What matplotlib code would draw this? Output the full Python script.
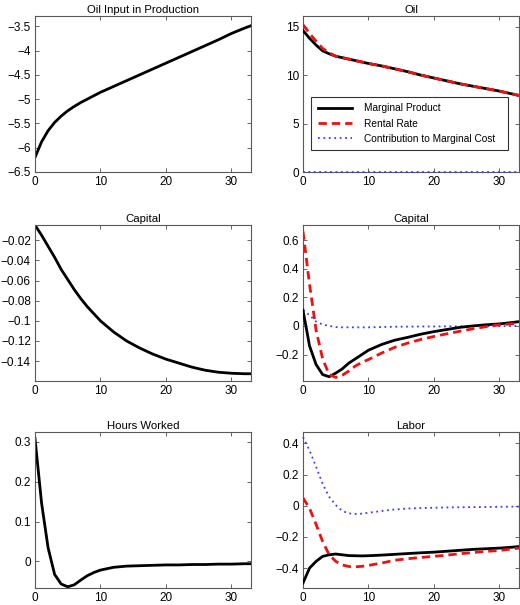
import numpy as np
import matplotlib
matplotlib.use("Agg")
import matplotlib.pyplot as plt
from matplotlib.ticker import FuncFormatter

plt.rcParams['font.family'] = ['Liberation Sans', 'DejaVu Sans']

# quarters after the shock
periods = [0, 1, 2, 3, 4, 5, 6, 7, 8, 9, 10, 12, 14, 16, 18, 20, 22, 24, 26, 28, 30, 32, 33]

oil_input = [-6.2, -5.88, -5.65, -5.48, -5.35, -5.24, -5.15, -5.07, -5.0, -4.93, -4.86, -4.74,
             -4.62, -4.50, -4.38, -4.26, -4.14, -4.02, -3.90, -3.78, -3.65, -3.54, -3.49]

oil_mp = [14.6, 13.8, 13.1, 12.5, 12.2, 11.95, 11.8, 11.65, 11.5, 11.35, 11.2, 10.95,
          10.65, 10.35, 10.0, 9.7, 9.4, 9.1, 8.85, 8.6, 8.35, 8.05, 7.9]
oil_rent = [15.2, 14.3, 13.5, 12.75, 12.3, 11.95, 11.8, 11.65, 11.5, 11.35, 11.2, 10.95,
            10.65, 10.35, 10.0, 9.7, 9.4, 9.1, 8.85, 8.6, 8.35, 8.05, 7.9]
oil_mc = [0.0] * 23

capital = [-0.005, -0.015, -0.026, -0.037, -0.049, -0.059, -0.069, -0.078, -0.086, -0.093, -0.1,
           -0.111, -0.12, -0.127, -0.133, -0.138, -0.142, -0.146, -0.149, -0.151, -0.152, -0.1525, -0.1525]

cap_mp = [0.11, -0.14, -0.27, -0.34, -0.355, -0.33, -0.30, -0.26, -0.23, -0.20, -0.17, -0.13,
          -0.10, -0.08, -0.058, -0.04, -0.025, -0.01, 0.0, 0.008, 0.014, 0.024, 0.03]
cap_rent = [0.66, 0.29, -0.03, -0.23, -0.34, -0.36, -0.345, -0.315, -0.28, -0.255, -0.235, -0.19,
            -0.15, -0.12, -0.095, -0.074, -0.055, -0.037, -0.02, -0.005, 0.007, 0.015, 0.018]
cap_mc = [0.11, 0.075, 0.03, 0.01, 0.0, -0.008, -0.01, -0.01, -0.01, -0.01, -0.01, -0.008,
          -0.006, -0.005, -0.004, -0.004, -0.003, -0.003, -0.002, -0.002, -0.002, -0.001, -0.001]

hours = [0.309, 0.147, 0.034, -0.033, -0.057, -0.064, -0.059, -0.047, -0.036, -0.028, -0.022, -0.015,
         -0.012, -0.011, -0.01, -0.009, -0.009, -0.008, -0.008, -0.007, -0.007, -0.006, -0.006]

lab_mp = [-0.496, -0.40, -0.357, -0.325, -0.315, -0.31, -0.315, -0.32, -0.321, -0.322, -0.321, -0.317,
          -0.312, -0.307, -0.302, -0.298, -0.292, -0.286, -0.28, -0.276, -0.272, -0.266, -0.262]
lab_rent = [0.05, -0.017, -0.12, -0.23, -0.315, -0.357, -0.38, -0.39, -0.392, -0.389, -0.383, -0.368,
            -0.35, -0.34, -0.332, -0.325, -0.317, -0.308, -0.3, -0.293, -0.287, -0.277, -0.272]
lab_mc = [0.44, 0.355, 0.25, 0.14, 0.057, 0.004, -0.034, -0.049, -0.053, -0.051, -0.045, -0.034,
          -0.024, -0.018, -0.015, -0.013, -0.011, -0.01, -0.009, -0.008, -0.007, -0.006, -0.006]

legend_labels = ["Marginal Product", "Rental Rate", "Contribution to Marginal Cost"]

fig = plt.figure(figsize=(5.2, 6.05), dpi=100)

cols = [35 / 520, 303 / 520]
w = 216 / 520
rows = [1 - 172 / 605, 1 - 381 / 605, 1 - 588 / 605]
h = 156 / 605

fmt = FuncFormatter(lambda v, p: ("%g" % v).replace("-", "\u2212"))


def make_ax(c, r, title, ylim, yticks):
    ax = fig.add_axes([cols[c], rows[r], w, h])
    ax.set_xlim(0, 33)
    ax.set_ylim(*ylim)
    ax.set_xticks([0, 10, 20, 30])
    ax.set_yticks(yticks)
    ax.yaxis.set_major_formatter(fmt)
    ax.tick_params(direction='in', length=3, width=0.6, top=True, right=True,
                   labelsize=8.5, pad=3, color='0.3')
    for s in ax.spines.values():
        s.set_color('0.35')
        s.set_linewidth(0.8)
    ax.set_title(title, fontsize=8.2, pad=2.5)
    return ax


def three(ax, mp, rent, mc):
    ax.plot(periods, mc, color='#3a3aff', lw=1.3, ls=(0, (1, 2.0)), label=legend_labels[2],
            clip_on=False, zorder=3)
    ax.plot(periods, mp, color='black', lw=2, label=legend_labels[0], zorder=4)
    ax.plot(periods, rent, color='#ee1111', lw=2, dashes=(3, 1.8), label=legend_labels[1], zorder=5)


ax1 = make_ax(0, 0, "Oil Input in Production", (-6.5, -3.29), np.arange(-6.5, -3.4, 0.5))
ax1.plot(periods, oil_input, color='black', lw=2)

ax2 = make_ax(1, 0, "Oil", (0, 16.1), [0, 5, 10, 15])
three(ax2, oil_mp, oil_rent, oil_mc)
hnd, lab = ax2.get_legend_handles_labels()
order = [1, 2, 0]
leg = ax2.legend([hnd[i] for i in order], [lab[i] for i in order],
                 loc='lower left', bbox_to_anchor=(0.037, 0.14, 0.912, 0.30), mode='expand',
                 fontsize=7.3, handlelength=3.4, frameon=True, fancybox=False,
                 borderaxespad=0, labelspacing=0.5, handletextpad=1.2, borderpad=0.65)
leg.get_frame().set_edgecolor('black')
leg.get_frame().set_linewidth(0.8)

ax3 = make_ax(0, 1, "Capital", (-0.1597, -0.0049), np.arange(-0.14, -0.019, 0.02))
ax3.plot(periods, capital, color='black', lw=2)

ax4 = make_ax(1, 1, "Capital", (-0.385, 0.705), [-0.2, 0, 0.2, 0.4, 0.6])
three(ax4, cap_mp, cap_rent, cap_mc)

ax5 = make_ax(0, 2, "Hours Worked", (-0.067, 0.325), [0, 0.1, 0.2, 0.3])
ax5.plot(periods, hours, color='black', lw=2)

ax6 = make_ax(1, 2, "Labor", (-0.528, 0.473), [-0.4, -0.2, 0, 0.2, 0.4])
three(ax6, lab_mp, lab_rent, lab_mc)

fig.savefig("out.png", dpi=100)
